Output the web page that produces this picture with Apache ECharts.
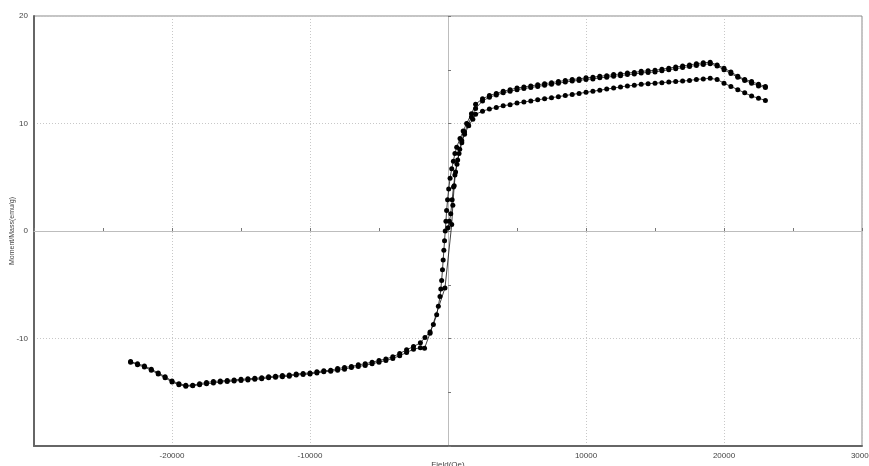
<!DOCTYPE html>
<html>
<head>
<meta charset="utf-8">
<script src="https://cdn.jsdelivr.net/npm/echarts@6/dist/echarts.min.js"></script>
<style>html,body{margin:0;padding:0;background:#fff}#c{width:869px;height:466px}</style>
</head>
<body>
<div id="c"></div>
<script>
// Virgin (initial) curve
var virginField = [0,100,200,300,400,500,650,800,1000,1200,1500,1800,2000,2500,3000,3500,4000,4500,5000,5500,6000,6500,7000,7500,8000,8500,9000,9500,10000,10500,11000,11500,12000,12500,13000,13500,14000,14500,15000,15500,16000,16500,17000,17500,18000,18500,19000,19500,20000,20500,21000,21500,22000,22500,23000];
var virginMoment = [0.3,0.9,1.6,2.9,4.1,5.2,6.2,7.2,8.2,9.0,9.8,10.4,10.85,11.15,11.35,11.5,11.65,11.75,11.9,12.0,12.1,12.2,12.3,12.4,12.5,12.6,12.7,12.8,12.9,13.0,13.1,13.2,13.3,13.4,13.5,13.55,13.65,13.7,13.75,13.8,13.85,13.9,13.95,14.0,14.1,14.15,14.2,14.1,13.75,13.45,13.15,12.85,12.55,12.35,12.15];

// Descending branch (+23000 -> -23000)
var descField = [23000,22500,22000,21500,21000,20500,20000,19500,19000,18500,18000,17500,17000,16500,16000,15500,15000,14500,14000,13500,13000,12500,12000,11500,11000,10500,10000,9500,9000,8500,8000,7500,7000,6500,6000,5500,5000,4500,4000,3500,3000,2500,2000,1700,1350,1100,870,630,500,390,270,150,50,-30,-100,-150,-200,-250,-300,-350,-400,-460,-520,-580,-700,-820,-1060,-1300,-1670,-2000,-2500,-3000,-3500,-4000,-4500,-5000,-5500,-6000,-6500,-7000,-7500,-8000,-8500,-9000,-9500,-10000,-10500,-11000,-11500,-12000,-12500,-13000,-13500,-14000,-14500,-15000,-15500,-16000,-16500,-17000,-17500,-18000,-18500,-19000,-19500,-20000,-20500,-21000,-21500,-22000,-22500,-23000];
var descMoment = [13.45,13.65,13.9,14.1,14.4,14.8,15.15,15.45,15.7,15.65,15.55,15.45,15.35,15.25,15.15,15.05,14.95,14.9,14.85,14.75,14.7,14.6,14.55,14.45,14.4,14.3,14.25,14.15,14.1,14.0,13.9,13.8,13.7,13.6,13.5,13.4,13.3,13.15,13.0,12.8,12.6,12.3,11.8,10.9,10.0,9.3,8.6,7.8,7.2,6.5,5.8,4.9,3.9,2.9,1.9,0.9,0.0,-0.9,-1.8,-2.7,-3.6,-4.6,-5.4,-6.1,-7.0,-7.8,-8.7,-9.4,-9.9,-10.4,-10.75,-11.05,-11.4,-11.7,-11.9,-12.05,-12.2,-12.35,-12.45,-12.6,-12.7,-12.8,-12.95,-13.0,-13.1,-13.2,-13.25,-13.3,-13.4,-13.45,-13.5,-13.55,-13.65,-13.7,-13.75,-13.8,-13.85,-13.9,-13.95,-14.0,-14.1,-14.2,-14.35,-14.35,-14.2,-13.95,-13.55,-13.2,-12.85,-12.55,-12.35,-12.15];

// Ascending branch (-23000 -> +23000)
var ascField = [-23000,-22500,-22000,-21500,-21000,-20500,-20000,-19500,-19000,-18500,-18000,-17500,-17000,-16500,-16000,-15500,-15000,-14500,-14000,-13500,-13000,-12500,-12000,-11500,-11000,-10500,-10000,-9500,-9000,-8500,-8000,-7500,-7000,-6500,-6000,-5500,-5000,-4500,-4000,-3500,-3000,-2500,-2000,-1700,-1300,-220,270,350,450,550,700,850,1000,1200,1450,1700,2000,2500,3000,3500,4000,4500,5000,5500,6000,6500,7000,7500,8000,8500,9000,9500,10000,10500,11000,11500,12000,12500,13000,13500,14000,14500,15000,15500,16000,16500,17000,17500,18000,18500,19000,19500,20000,20500,21000,21500,22000,22500,23000];
var ascMoment = [-12.2,-12.45,-12.65,-12.95,-13.3,-13.65,-14.05,-14.3,-14.45,-14.4,-14.3,-14.2,-14.15,-14.05,-14.0,-13.95,-13.9,-13.85,-13.8,-13.75,-13.65,-13.6,-13.55,-13.5,-13.4,-13.35,-13.3,-13.2,-13.1,-13.05,-12.95,-12.85,-12.7,-12.6,-12.5,-12.35,-12.2,-12.05,-11.85,-11.6,-11.3,-11.0,-10.85,-10.9,-9.5,-5.3,0.6,2.4,4.2,5.5,6.6,7.6,8.4,9.2,9.9,10.6,11.4,12.1,12.45,12.65,12.85,13.0,13.15,13.25,13.35,13.45,13.55,13.65,13.75,13.85,13.95,14.0,14.1,14.15,14.25,14.3,14.4,14.45,14.55,14.6,14.7,14.75,14.8,14.9,15.0,15.1,15.2,15.3,15.4,15.5,15.55,15.35,15.0,14.65,14.3,14.0,13.75,13.5,13.35];

var xTitle = 'Field(Oe)';
var yTitle = 'Moment/Mass(emu/g)';

function pairs(xs, ys) { return xs.map(function (x, i) { return [x, ys[i]]; }); }

var chart = echarts.init(document.getElementById('c'), null, {renderer: 'canvas'});
var labelFont = {fontFamily: 'Liberation Sans, Arial, sans-serif', fontSize: 8, color: '#444'};
function mkSeries(name, xs, ys) {
  return {
    name: name, type: 'line', xAxisIndex: 0, yAxisIndex: 0,
    data: pairs(xs, ys),
    symbol: 'circle', symbolSize: 5,
    itemStyle: {color: '#000'},
    lineStyle: {color: '#111', width: 0.8},
    silent: true, z: 5
  };
}
chart.setOption({
  animation: false,
  backgroundColor: '#fff',
  grid: {left: 34, right: 7, top: 16, bottom: 20, containLabel: false, outerBoundsMode: 'none',
         show: true, borderColor: '#8a8a8a', borderWidth: 1, backgroundColor: 'transparent'},
  xAxis: [{
    type: 'value', min: -30000, max: 30000, interval: 10000, position: 'bottom',
    axisLine: {onZero: false, lineStyle: {color: '#666', width: 2}},
    axisTick: {show: false},
    axisLabel: Object.assign({margin: 6, showMaxLabel: true, hideOverlap: false, formatter: function (v) { return (v === -30000 || v === 0) ? '' : String(v); }}, labelFont),
    splitLine: {show: true, lineStyle: {color: '#c8c8c8', type: [1, 2], width: 1}},
    name: xTitle, nameLocation: 'middle', nameGap: 15, nameMoveOverlap: false,
    nameTextStyle: {fontFamily: 'Liberation Sans, Arial, sans-serif', fontSize: 8, color: '#444'}
  }, {
    type: 'value', min: -30000, max: 30000, interval: 5000, position: 'top',
    axisLine: {onZero: true, lineStyle: {color: '#bdbdbd', width: 1}},
    axisTick: {show: true, length: 3, lineStyle: {color: '#777'}},
    axisLabel: {show: false}, splitLine: {show: false}
  }],
  yAxis: [{
    type: 'value', min: -20, max: 20, interval: 10, position: 'left',
    axisLine: {onZero: false, lineStyle: {color: '#666', width: 2}},
    axisTick: {show: false},
    axisLabel: Object.assign({margin: 6, formatter: function (v) { return v === -20 ? '' : String(v); }}, labelFont),
    splitLine: {show: true, lineStyle: {color: '#c8c8c8', type: [1, 2], width: 1}},
    name: yTitle, nameLocation: 'middle', nameGap: 18, nameRotate: 90, nameMoveOverlap: false,
    nameTextStyle: {fontFamily: 'Liberation Sans, Arial, sans-serif', fontSize: 7, color: '#444'}
  }, {
    type: 'value', min: -20, max: 20, interval: 5, position: 'right',
    axisLine: {onZero: true, lineStyle: {color: '#bdbdbd', width: 1}},
    axisTick: {show: true, length: 3, lineStyle: {color: '#777'}},
    axisLabel: {show: false}, splitLine: {show: false}
  }],
  series: [
    mkSeries('virgin', virginField, virginMoment),
    mkSeries('descending', descField, descMoment),
    mkSeries('ascending', ascField, ascMoment)
  ]
});
</script>
</body>
</html>
